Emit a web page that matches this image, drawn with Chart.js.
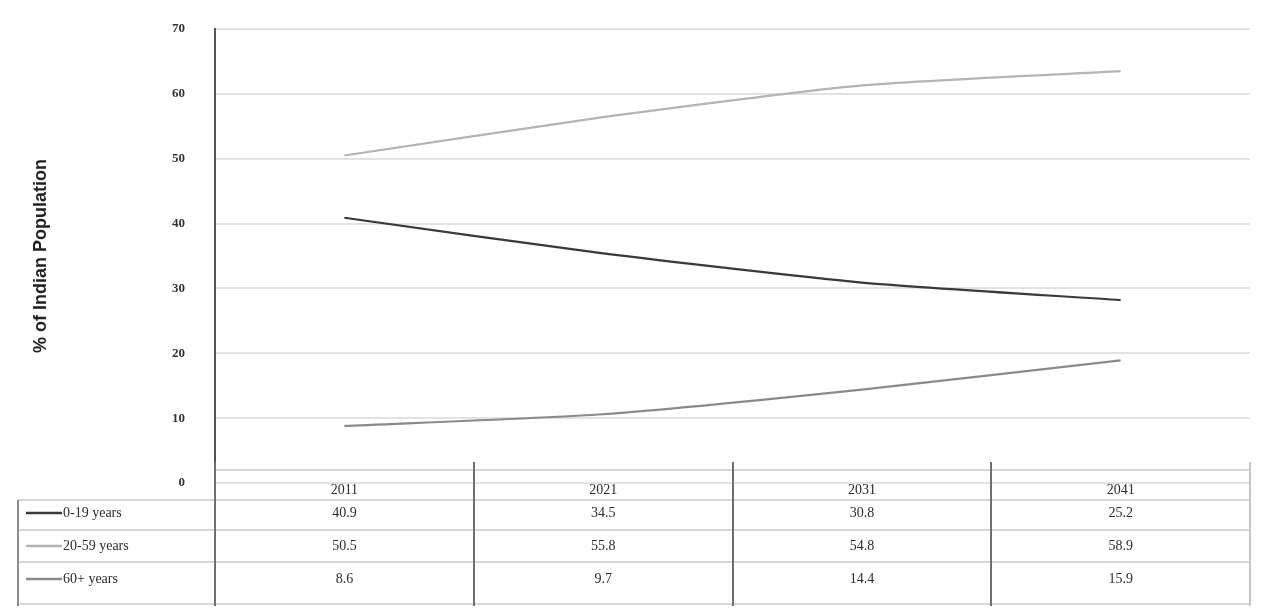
<!DOCTYPE html>
<html>
<head>
<meta charset="utf-8">
<script src="https://cdn.jsdelivr.net/npm/chart.js@4"></script>
<style>
  html, body { margin: 0; padding: 0; background: #fff; }
  #wrap { width: 1269px; height: 608px; }
</style>
</head>
<body>
<div id="wrap"><canvas id="popChart" width="1269" height="608"></canvas></div>
<script>
// census years
const years = ['2011', '2021', '2031', '2041'];

// plotted shares (% of population)
const age0to19 = [40.9, 35.4, 30.9, 28.2];
const age20to59 = [50.5, 56.4, 61.3, 63.5];
const age60plus = [8.8, 10.6, 14.4, 18.9];

// values as printed in the data table
const table0to19 = ['40.9', '34.5', '30.8', '25.2'];
const table20to59 = ['50.5', '55.8', '54.8', '58.9'];
const table60plus = ['8.6', '9.7', '14.4', '15.9'];

const seriesNames = ['0-19 years', '20-59 years', '60+ years'];
const seriesColors = ['#3a3a3a', '#b4b4b4', '#8a8a8a'];

const yTicks = [0, 10, 20, 30, 40, 50, 60, 70];

// draws the data table under the plot, columns follow the x scale
const dataTable = {
  id: 'dataTable',
  afterDraw(chart) {
    const ctx = chart.ctx;
    const x = chart.scales.x;
    const left = chart.chartArea.left;
    const right = chart.chartArea.right;
    const step = x.getPixelForValue(1) - x.getPixelForValue(0);
    const rows = [table0to19, table20to59, table60plus];
    const rowY = [513, 546, 579];
    const headY = 490;

    ctx.save();
    // horizontal rules
    ctx.strokeStyle = '#d6d6d6';
    ctx.lineWidth = 2;
    [500, 530, 562].forEach(y => {
      ctx.beginPath();
      ctx.moveTo(18, y);
      ctx.lineTo(right, y);
      ctx.stroke();
    });
    ctx.beginPath();
    ctx.moveTo(left, 470);
    ctx.lineTo(right, 470);
    ctx.stroke();
    ctx.beginPath();
    ctx.moveTo(18, 604);
    ctx.lineTo(right, 604);
    ctx.stroke();

    // column dividers
    for (let i = 0; i <= years.length; i++) {
      const px = Math.round(x.getPixelForValue(i) - step / 2);
      ctx.lineWidth = 2;
      ctx.strokeStyle = (i === years.length) ? '#c4c4c4' : '#6e6e6e';
      ctx.beginPath();
      ctx.moveTo(px, 462);
      ctx.lineTo(px, 606);
      ctx.stroke();
    }
    // legend box edge
    ctx.strokeStyle = '#8c8c8c';
    ctx.beginPath();
    ctx.moveTo(18, 500);
    ctx.lineTo(18, 606);
    ctx.stroke();

    // texts
    ctx.fillStyle = '#2b2b2b';
    ctx.font = '14px "Liberation Serif", serif';
    ctx.textAlign = 'center';
    ctx.textBaseline = 'middle';
    years.forEach((yr, i) => {
      const cx = x.getPixelForValue(i);
      ctx.fillText(yr, cx, headY);
      rows.forEach((r, j) => ctx.fillText(r[i], cx, rowY[j]));
    });

    // legend keys
    ctx.textAlign = 'left';
    seriesNames.forEach((name, j) => {
      ctx.strokeStyle = seriesColors[j];
      ctx.lineWidth = 2.5;
      ctx.beginPath();
      ctx.moveTo(26, rowY[j]);
      ctx.lineTo(62, rowY[j]);
      ctx.stroke();
      ctx.fillStyle = '#2b2b2b';
      ctx.fillText(name, 63, rowY[j]);
    });
    ctx.restore();
  }
};

const ctx = document.getElementById('popChart').getContext('2d');
new Chart(ctx, {
  type: 'line',
  data: {
    labels: years,
    datasets: [
      { label: seriesNames[0], data: age0to19, borderColor: seriesColors[0] },
      { label: seriesNames[1], data: age20to59, borderColor: seriesColors[1] },
      { label: seriesNames[2], data: age60plus, borderColor: seriesColors[2] }
    ]
  },
  options: {
    responsive: false,
    animation: false,
    layout: { padding: { left: 0, top: 29, right: 19, bottom: 125 } },
    elements: {
      line: { borderWidth: 2.2, tension: 0.2, fill: false },
      point: { radius: 0 }
    },
    plugins: {
      legend: { display: false },
      tooltip: { enabled: false }
    },
    scales: {
      x: {
        type: 'category',
        offset: true,
        display: false
      },
      y: {
        min: 0,
        max: 70,
        afterFit(scale) {
          scale.width = 215;
          scale.paddingTop = 0;
          scale.paddingBottom = 0;
        },
        afterBuildTicks(scale) { scale.ticks = yTicks.map(v => ({ value: v })); },
        ticks: {
          padding: 30,
          color: '#333',
          font: { family: '"Liberation Serif", serif', size: 13, weight: 'bold' }
        },
        grid: { color: '#e2e2e2', lineWidth: 2, drawTicks: false },
        border: { display: true, color: '#555', width: 2 },
        title: {
          display: true,
          text: '% of Indian Population',
          color: '#222',
          padding: { top: 30, bottom: 0 },
          font: { family: '"Liberation Sans Narrow", "Liberation Sans", sans-serif', size: 18, weight: 'bold' }
        }
      }
    }
  },
  plugins: [dataTable]
});
</script>
</body>
</html>
